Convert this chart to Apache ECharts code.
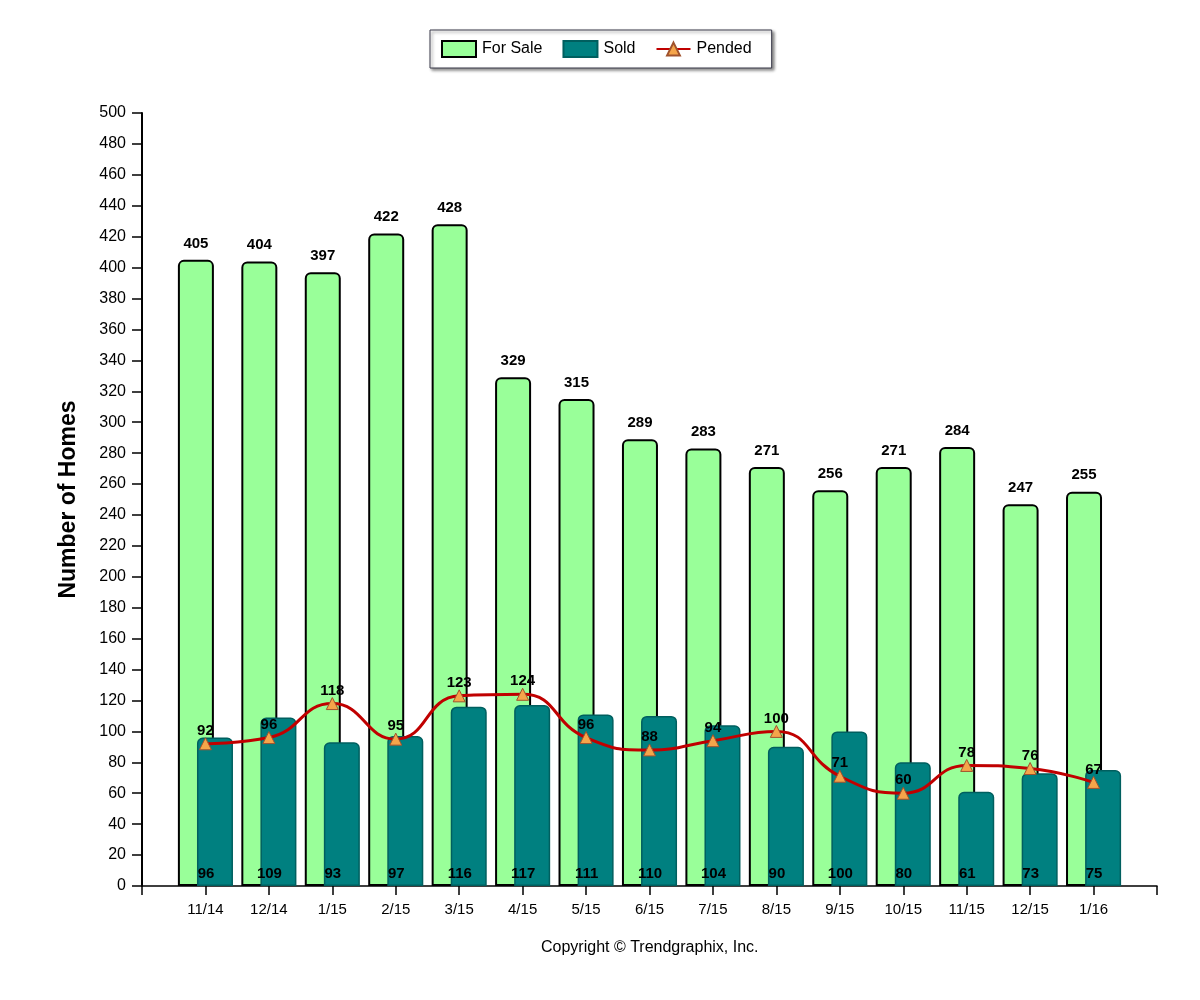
<!DOCTYPE html>
<html>
<head>
<meta charset="utf-8">
<script src="https://cdn.jsdelivr.net/npm/echarts@6/dist/echarts.min.js"></script>
<style>html,body{margin:0;padding:0;background:#fff}#main{width:1200px;height:1000px}</style>
</head>
<body>
<div id="main"></div>
<script>
var categories = ['11/14','12/14','1/15','2/15','3/15','4/15','5/15','6/15','7/15','8/15','9/15','10/15','11/15','12/15','1/16'];
var forSale = [405,404,397,422,428,329,315,289,283,271,256,271,284,247,255];
var sold = [96,109,93,97,116,117,111,110,104,90,100,80,61,73,75];
var pended = [92,96,118,95,123,124,96,88,94,100,71,60,78,76,67];

var FONT = '"Liberation Sans", Arial, sans-serif';
function pad(a){ return [null].concat(a).concat([null]); }
var cats = [''].concat(categories).concat(['']);

var chart = echarts.init(document.getElementById('main'));
chart.setOption({
  backgroundColor: '#fff',
  animation: false,
  textStyle: {fontFamily: FONT},
  legend: {
    top: 30, left: 430,
    padding: [10, 20, 10, 11],
    itemGap: 20, itemWidth: 34, itemHeight: 16,
    borderColor: '#3a3a4a', borderWidth: 1,
    backgroundColor: '#fff',
    shadowColor: 'rgba(0,0,0,0.45)', shadowBlur: 3, shadowOffsetX: 2, shadowOffsetY: 2,
    textStyle: {fontFamily: FONT, fontSize: 16, color: '#000', padding: [0,0,0,1]},
    data: [{name: 'For Sale', icon: 'rect'}, {name: 'Sold', icon: 'rect'}, {name: 'Pended'}]
  },
  grid: {left: 142, right: 43, top: 113, bottom: 114},
  xAxis: {
    type: 'category', data: cats, boundaryGap: false,
    axisLine: {lineStyle: {color: '#000', width: 1.5}},
    axisTick: {length: 9, interval: 0, lineStyle: {color: '#000', width: 1.5}},
    axisLabel: {interval: 0, margin: 16, fontSize: 15, color: '#000', fontFamily: FONT},
    splitLine: {show: false}
  },
  yAxis: {
    type: 'value', min: 0, max: 500, interval: 20,
    name: 'Number of Homes', nameLocation: 'middle', nameGap: 62,
    nameTextStyle: {fontSize: 23, fontWeight: 'bold', color: '#000', fontFamily: FONT},
    axisLine: {show: true, lineStyle: {color: '#000', width: 2}},
    axisTick: {show: true, length: 10, lineStyle: {color: '#000', width: 1.5}},
    axisLabel: {fontSize: 16, color: '#000', margin: 16, fontFamily: FONT},
    splitLine: {show: false}
  },
  series: [
    {
      name: 'For Sale', type: 'bar', data: pad(forSale),
      barWidth: 36, barGap: '-47%',
      itemStyle: {color: '#99FF99', borderColor: '#000', borderWidth: 2, borderRadius: [5,5,0,0]},
      label: {show: true, position: 'top', distance: 9, fontSize: 15, fontWeight: 'bold', color: '#000', fontFamily: FONT},
      z: 2
    },
    {
      name: 'Sold', type: 'bar', data: pad(sold),
      barWidth: 36,
      itemStyle: {color: '#008080', borderColor: '#005f5f', borderWidth: 1.5, borderRadius: [5,5,0,0]},
      label: {show: true, position: 'insideBottom', distance: 5, offset: [-9, 0], fontSize: 15, fontWeight: 'bold', color: '#000', fontFamily: FONT},
      z: 3
    },
    {
      name: 'Pended', type: 'line', data: pad(pended),
      smooth: 0.5, connectNulls: false,
      symbol: 'triangle', symbolSize: 12,
      lineStyle: {color: '#C00000', width: 3},
      itemStyle: {color: '#F5A54A', borderColor: '#A0522D', borderWidth: 1},
      label: {show: true, position: 'top', distance: -1, fontSize: 15, fontWeight: 'bold', color: '#000', fontFamily: FONT},
      z: 5
    }
  ],
  graphic: [{
    type: 'text', left: 541, top: 940,
    style: {text: 'Copyright \u00a9 Trendgraphix, Inc.', fontSize: 16, fill: '#000', fontFamily: FONT}
  }]
});
</script>
</body>
</html>
